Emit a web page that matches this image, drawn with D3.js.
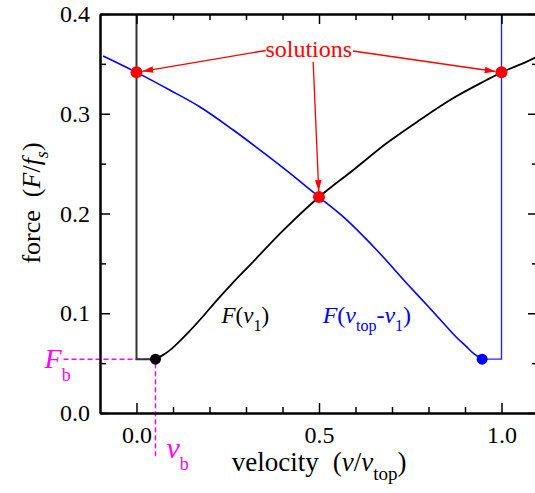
<!DOCTYPE html>
<html>
<head>
<meta charset="utf-8">
<script src="https://cdn.jsdelivr.net/npm/d3@7"></script>
<style>
  body { margin: 0; background: #fff; }
  svg { display: block; font-family: "Liberation Serif", "Times New Roman", serif; }
  .axis path { stroke: #000; stroke-width: 2; }
  .axis line { stroke: #000; stroke-width: 1.5; }
</style>
</head>
<body>
<svg id="chart" width="535" height="493"></svg>
<script>
// velocity (v/v_top) and force (F/f_s)
var blackV = [0.052, 0.07, 0.09, 0.11, 0.14, 0.18, 0.22, 0.26, 0.31, 0.402, 0.5,
              0.594, 0.685, 0.776, 0.867, 0.959, 1.0, 1.068, 1.1];
var blackF = [0.054, 0.0575, 0.0625, 0.069, 0.080, 0.096, 0.113, 0.129, 0.148, 0.183, 0.2165,
              0.2436, 0.2704, 0.2937, 0.3155, 0.3338, 0.3415, 0.352, 0.3575];
var blueV = [-0.0915, 0.0, 0.091, 0.173, 0.265, 0.356, 0.447, 0.5, 0.566, 0.658, 0.749,
             0.80, 0.840, 0.875, 0.904, 0.925, 0.947];
var blueF = [0.3579, 0.3415, 0.3238, 0.307, 0.2837, 0.2587, 0.2325, 0.2165, 0.1968, 0.1634, 0.1266,
             0.1065, 0.0905, 0.0765, 0.0665, 0.0592, 0.054];
var breakF = 0.054;     // F_b
var breakV = 0.052;     // v_b
var blueDotV = 0.947;
var solutionV = [0.0, 0.5, 1.0];
var solutionF = [0.3415, 0.2165, 0.3415];
var arrowV = [0.354, 0.484, 0.593];
var arrowF = [0.3634, 0.352, 0.3629];
var xMajor = [0.0, 0.5, 1.0];
var xMinor = [0.1, 0.2, 0.3, 0.4, 0.6, 0.7, 0.8, 0.9];
var yMajor = [0.0, 0.1, 0.2, 0.3, 0.4];
var yMinor = [0.05, 0.15, 0.25, 0.35];

(function() {
  var svg = d3.select("#chart"),
      x0 = 100, x1 = 538, y0 = 413, y1 = 14;

  var x = d3.scaleLinear().domain([-0.1, 1.1]).range([x0, x1]);
  var y = d3.scaleLinear().domain([0, 0.4]).range([y0, y1]);

  svg.append("rect").attr("width", 535).attr("height", 493).attr("fill", "#fff");

  var defs = svg.append("defs");
  defs.append("clipPath").attr("id", "plot")
    .append("rect").attr("x", x0).attr("y", y1).attr("width", x1 - x0).attr("height", y0 - y1);
  defs.append("marker").attr("id", "head")
      .attr("viewBox", "0 0 10 6").attr("refX", 10).attr("refY", 3)
      .attr("markerWidth", 11).attr("markerHeight", 6.5)
      .attr("markerUnits", "userSpaceOnUse").attr("orient", "auto")
    .append("path").attr("d", "M0,0L10,3L0,6Z").attr("fill", "#ff0000");

  // magenta guides for F_b and v_b
  var guide = d3.line().x(function(d) { return x(d[0]); }).y(function(d) { return y(d[1]); });
  svg.append("path")
    .attr("d", guide([[-0.2, breakF], [breakV, breakF], [breakV, -0.045]]))
    .attr("fill", "none").attr("stroke", "#ff00ff").attr("stroke-width", 1.5)
    .attr("stroke-dasharray", "5,3");

  var plot = svg.append("g").attr("clip-path", "url(#plot)");

  var smooth = d3.line().curve(d3.curveMonotoneX)
    .x(function(d) { return x(d[0]); }).y(function(d) { return y(d[1]); });

  // the flat / vertical parts at both ends
  plot.append("path")
    .attr("d", guide([[0, 0.4], [0, breakF], [breakV, breakF]]))
    .attr("fill", "none").attr("stroke", "#333").attr("stroke-width", 2);
  plot.append("path")
    .attr("d", guide([[blueDotV, breakF], [1.0, breakF], [1.0, 0.4]]))
    .attr("fill", "none").attr("stroke", "#2424ff").attr("stroke-width", 1.4);

  plot.append("path")
    .attr("d", smooth(d3.zip(blueV, blueF)))
    .attr("fill", "none").attr("stroke", "#0000ff").attr("stroke-width", 1.6);
  plot.append("path")
    .attr("d", smooth(d3.zip(blackV, blackF)))
    .attr("fill", "none").attr("stroke", "#000").attr("stroke-width", 1.8);

  // arrows from the label to the crossings
  solutionV.forEach(function(v, i) {
    var sx = x(arrowV[i]), sy = y(arrowF[i]),
        tx = x(v), ty = y(solutionF[i]),
        len = Math.hypot(tx - sx, ty - sy), k = (len - 6) / len;
    svg.append("line")
      .attr("x1", sx).attr("y1", sy)
      .attr("x2", sx + (tx - sx) * k).attr("y2", sy + (ty - sy) * k)
      .attr("stroke", "#ff0000").attr("stroke-width", 1.3)
      .attr("marker-end", "url(#head)");
  });

  svg.selectAll(".sol").data(solutionV).enter().append("circle")
    .attr("cx", function(d) { return x(d); })
    .attr("cy", function(d, i) { return y(solutionF[i]); })
    .attr("r", 6).attr("fill", "#ff0000");
  svg.append("circle").attr("cx", x(breakV)).attr("cy", y(breakF)).attr("r", 5.5).attr("fill", "#000");
  svg.append("circle").attr("cx", x(blueDotV)).attr("cy", y(breakF)).attr("r", 5.5).attr("fill", "#0000ff");

  // axes: ticks point inward on all four sides
  var fmt = d3.format(".1f");
  function axis(gen, tx, ty, values, size, pad, labels) {
    var g = svg.append("g").attr("class", "axis")
      .attr("transform", "translate(" + tx + "," + ty + ")")
      .call(gen.tickValues(values).tickSizeInner(-size).tickSizeOuter(0)
        .tickPadding(pad).tickFormat(labels ? fmt : ""));
    g.attr("font-family", null).attr("font-size", 24);
    g.selectAll("text").attr("fill", "#000");
    return g;
  }
  axis(d3.axisBottom(x), 0, y0, xMinor, 6, 0, false);
  axis(d3.axisBottom(x), 0, y0, xMajor, 10, 13, true);
  axis(d3.axisTop(x), 0, y1, xMinor, 6, 0, false);
  axis(d3.axisTop(x), 0, y1, xMajor, 10, 0, false);
  axis(d3.axisLeft(y), x0, 0, yMinor, 6, 0, false);
  axis(d3.axisLeft(y), x0, 0, yMajor, 10, 10, true);
  axis(d3.axisRight(y), x1, 0, yMinor, 6, 0, false);
  axis(d3.axisRight(y), x1, 0, yMajor, 10, 0, false);

  // texts
  function label(px, py, anchor, size, color, extra) {
    return svg.append("text")
      .attr("transform", "translate(" + px + "," + py + ")" + (extra || ""))
      .attr("text-anchor", anchor).attr("font-size", size).attr("fill", color);
  }
  function part(t, s, opts) {
    var ts = t.append("tspan").text(s);
    if (opts && opts.it) ts.attr("font-style", "italic");
    if (opts && opts.size) ts.attr("font-size", opts.size);
    if (opts && opts.dy) ts.attr("dy", opts.dy);
    if (opts && opts.dx) ts.attr("dx", opts.dx);
    return ts;
  }

  label(x(0.472), y(0.357), "middle", 24, "#ff0000").text("solutions");

  var t = label(x(0.233), y(0.09), "start", 23, "#000");
  part(t, "F", {it: 1}); part(t, "("); part(t, "v", {it: 1});
  part(t, "1", {size: 16, dy: 8}); part(t, ")", {dy: -8});

  t = label(x(0.51), y(0.09), "start", 24, "#0000ff");
  part(t, "F", {it: 1}); part(t, "("); part(t, "v", {it: 1});
  part(t, "top", {size: 16, dy: 8}); part(t, "-", {dy: -8}); part(t, "v", {it: 1});
  part(t, "1", {size: 16, dy: 8}); part(t, ")", {dy: -8});

  t = label(x(-0.252), y(0.045), "start", 28, "#ff00ff");
  part(t, "F", {it: 1}); part(t, "b", {size: 18, dy: 13});

  t = label(x(0.082), y(-0.045), "start", 30, "#ff00ff");
  part(t, "v", {it: 1}); part(t, "b", {size: 18, dy: 12});

  t = label(231.7, 471, "start", 27, "#000");
  part(t, "velocity"); part(t, "(", {dx: 14}); part(t, "v", {it: 1}); part(t, "/");
  part(t, "v", {it: 1}); part(t, "top", {size: 19, dy: 9}); part(t, ")", {dy: -9});

  t = label(40, 203, "middle", 26, "#000", " rotate(-90)");
  part(t, "force"); part(t, "(", {dx: 13}); part(t, "F", {it: 1}); part(t, "/");
  part(t, "f", {it: 1}); part(t, "s", {it: 1, size: 18, dy: 8}); part(t, ")", {dy: -8});
})();
</script>
</body>
</html>
